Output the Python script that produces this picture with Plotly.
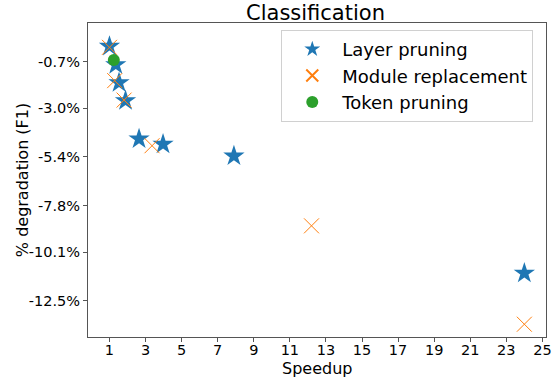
import plotly.graph_objects as go

# Data (speedup, % degradation)
layer_x = [1.0, 1.35, 1.53, 1.89, 2.64, 3.97, 7.9, 24.0]
layer_y = [0.05, -0.86, -1.74, -2.63, -4.52, -4.78, -5.36, -11.13]
module_x = [1.0, 1.29, 1.81, 3.36, 12.2, 24.0]
module_y = [0.0, -1.64, -2.6, -4.85, -8.8, -13.65]
token_x = [1.24]
token_y = [-0.62]

xticks = list(range(1, 26, 2))
yticks = [-0.7, -3.0, -5.4, -7.8, -10.1, -12.5]
ytick_text = ["-0.7%", "-3.0%", "-5.4%", "-7.8%", "-10.1%", "-12.5%"]

fig = go.Figure()
fig.add_trace(go.Scatter(x=layer_x, y=layer_y, mode="markers", name="Layer pruning",
                         marker=dict(symbol="star", size=16, color="#1f77b4", line=dict(width=0))))
fig.add_trace(go.Scatter(x=module_x, y=module_y, mode="markers", name="Module replacement",
                         marker=dict(symbol="x-thin-open", size=15, color="#ff7f0e",
                                     line=dict(width=1, color="#ff7f0e"))))
fig.add_trace(go.Scatter(x=token_x, y=token_y, mode="markers", name="Token pruning",
                         marker=dict(symbol="circle", size=12, color="#2ca02c", line=dict(width=0))))

font = "DejaVu Sans"
W, H = 558, 379
fig.update_layout(
    width=W, height=H,
    margin=dict(l=88, r=12, t=23, b=42),
    paper_bgcolor="white", plot_bgcolor="white",
    title=dict(text="Classification", x=315.5 / W, xanchor="center", xref="container",
               y=1 - 12.5 / H, yref="container", yanchor="middle",
               font=dict(family=font, size=21, color="black"), automargin=False),
    font=dict(family=font, color="black"),
    showlegend=True,
    legend=dict(x=0.422, y=0.978, xanchor="left", yanchor="top",
                bgcolor="rgba(255,255,255,0.8)", bordercolor="#d0d0d0", borderwidth=1,
                font=dict(family=font, size=18, color="black"), itemsizing="constant",
                itemwidth=50, tracegroupgap=0),
    xaxis=dict(range=[-0.19, 25.2], tickmode="array", tickvals=xticks, automargin=False,
               showgrid=False, zeroline=False, showline=True, linecolor="#555", linewidth=1,
               mirror=True, ticks="outside", ticklen=4, tickcolor="#555",
               ticklabelstandoff=-4,
               tickfont=dict(size=14.5, family=font)),
    yaxis=dict(range=[-14.28, 1.2], tickmode="array", tickvals=yticks, ticktext=ytick_text,
               automargin=False,
               showgrid=False, zeroline=False, showline=True, linecolor="#555", linewidth=1,
               mirror=True, ticks="outside", ticklen=4, tickcolor="#555",
               tickfont=dict(size=14.5, family=font)),
    annotations=[
        dict(text="Speedup", xref="paper", yref="paper", x=0.5, y=-(368 - 336.7) / 313.4,
             xanchor="center", yanchor="middle", showarrow=False,
             font=dict(family=font, size=16, color="black")),
        dict(text="% degradation (F1)", xref="paper", yref="paper",
             x=-(88.3 - 22.5) / 457.7, y=0.5, textangle=-90,
             xanchor="center", yanchor="middle", showarrow=False,
             font=dict(family=font, size=16, color="black")),
    ],
)
fig.write_html("out.html", post_script="document.body.style.margin='0';",
               config={"displayModeBar": False})
